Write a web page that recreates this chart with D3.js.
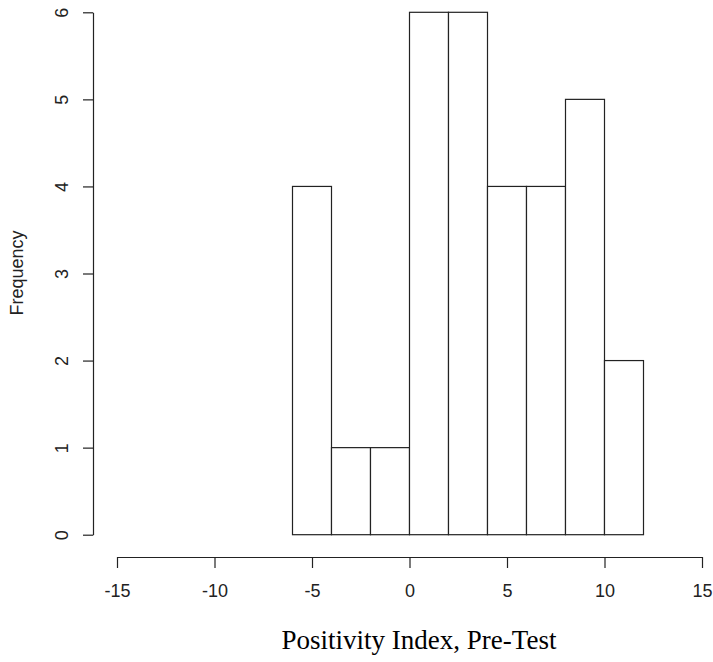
<!DOCTYPE html>
<html><head><meta charset="utf-8">
<script src="https://cdn.jsdelivr.net/npm/d3@7"></script>
<style>body{margin:0;background:#fff}svg{display:block}</style>
</head><body>
<script>
const binStarts = [-6,-4,-2,0,2,4,6,8,10];
const binWidth = 2;
const counts = [4,1,1,6,6,4,4,5,2];
const xTicks = [-15,-10,-5,0,5,10,15];
const yTicks = [0,1,2,3,4,5,6];
const xTitle = "Positivity Index, Pre-Test";
const yTitle = "Frequency";

const W=713,H=662;
const svg=d3.select("body").append("svg").attr("width",W).attr("height",H);
const x=d3.scaleLinear().domain([-15,15]).range([117,702]);
const y=d3.scaleLinear().domain([0,6]).range([534.7,12.3]);
const ink="#222";
const fmt=d=>String(d);

svg.append("g").selectAll("rect").data(binStarts).join("rect")
  .attr("x",(d)=>x(d)).attr("width",(d)=>x(d+binWidth)-x(d))
  .attr("y",(d,i)=>y(counts[i])).attr("height",(d,i)=>y(0)-y(counts[i]))
  .attr("fill","#fff").attr("stroke",ink).attr("stroke-width",1.2);

const xa=svg.append("g").attr("transform","translate(0,557)")
  .call(d3.axisBottom(x).tickValues(xTicks).tickFormat(fmt).tickSize(11).tickPadding(16).tickSizeOuter(0));
xa.select(".domain").attr("stroke",ink).attr("stroke-width",1.2);
xa.selectAll(".tick line").attr("stroke",ink).attr("stroke-width",1.2);
xa.selectAll("text").attr("font-family","Liberation Sans, Arial, sans-serif").attr("font-size",18).attr("fill","#222");

const ya=svg.append("g").attr("transform","translate(93,0)")
  .call(d3.axisLeft(y).tickValues(yTicks).tickFormat(fmt).tickSize(10).tickSizeOuter(0));
ya.select(".domain").attr("stroke",ink).attr("stroke-width",1.2);
ya.selectAll(".tick line").attr("stroke",ink).attr("stroke-width",1.2);
ya.selectAll("text").attr("font-family","Liberation Sans, Arial, sans-serif").attr("font-size",18).attr("fill","#222")
  .attr("x",null).attr("dy",null)
  .attr("transform","translate(-31,0) rotate(-90)")
  .attr("text-anchor","middle").attr("dominant-baseline","central");

svg.append("text").attr("x",419).attr("y",649).attr("text-anchor","middle")
  .attr("font-family","Liberation Serif, Times New Roman, serif").attr("font-size",27).attr("fill","#000")
  .text(xTitle);
svg.append("text").attr("transform","translate(17,273) rotate(-90)").attr("text-anchor","middle")
  .attr("dominant-baseline","central")
  .attr("font-family","Liberation Sans, Arial, sans-serif").attr("font-size",18).attr("fill","#222")
  .text(yTitle);
</script>
</body></html>
